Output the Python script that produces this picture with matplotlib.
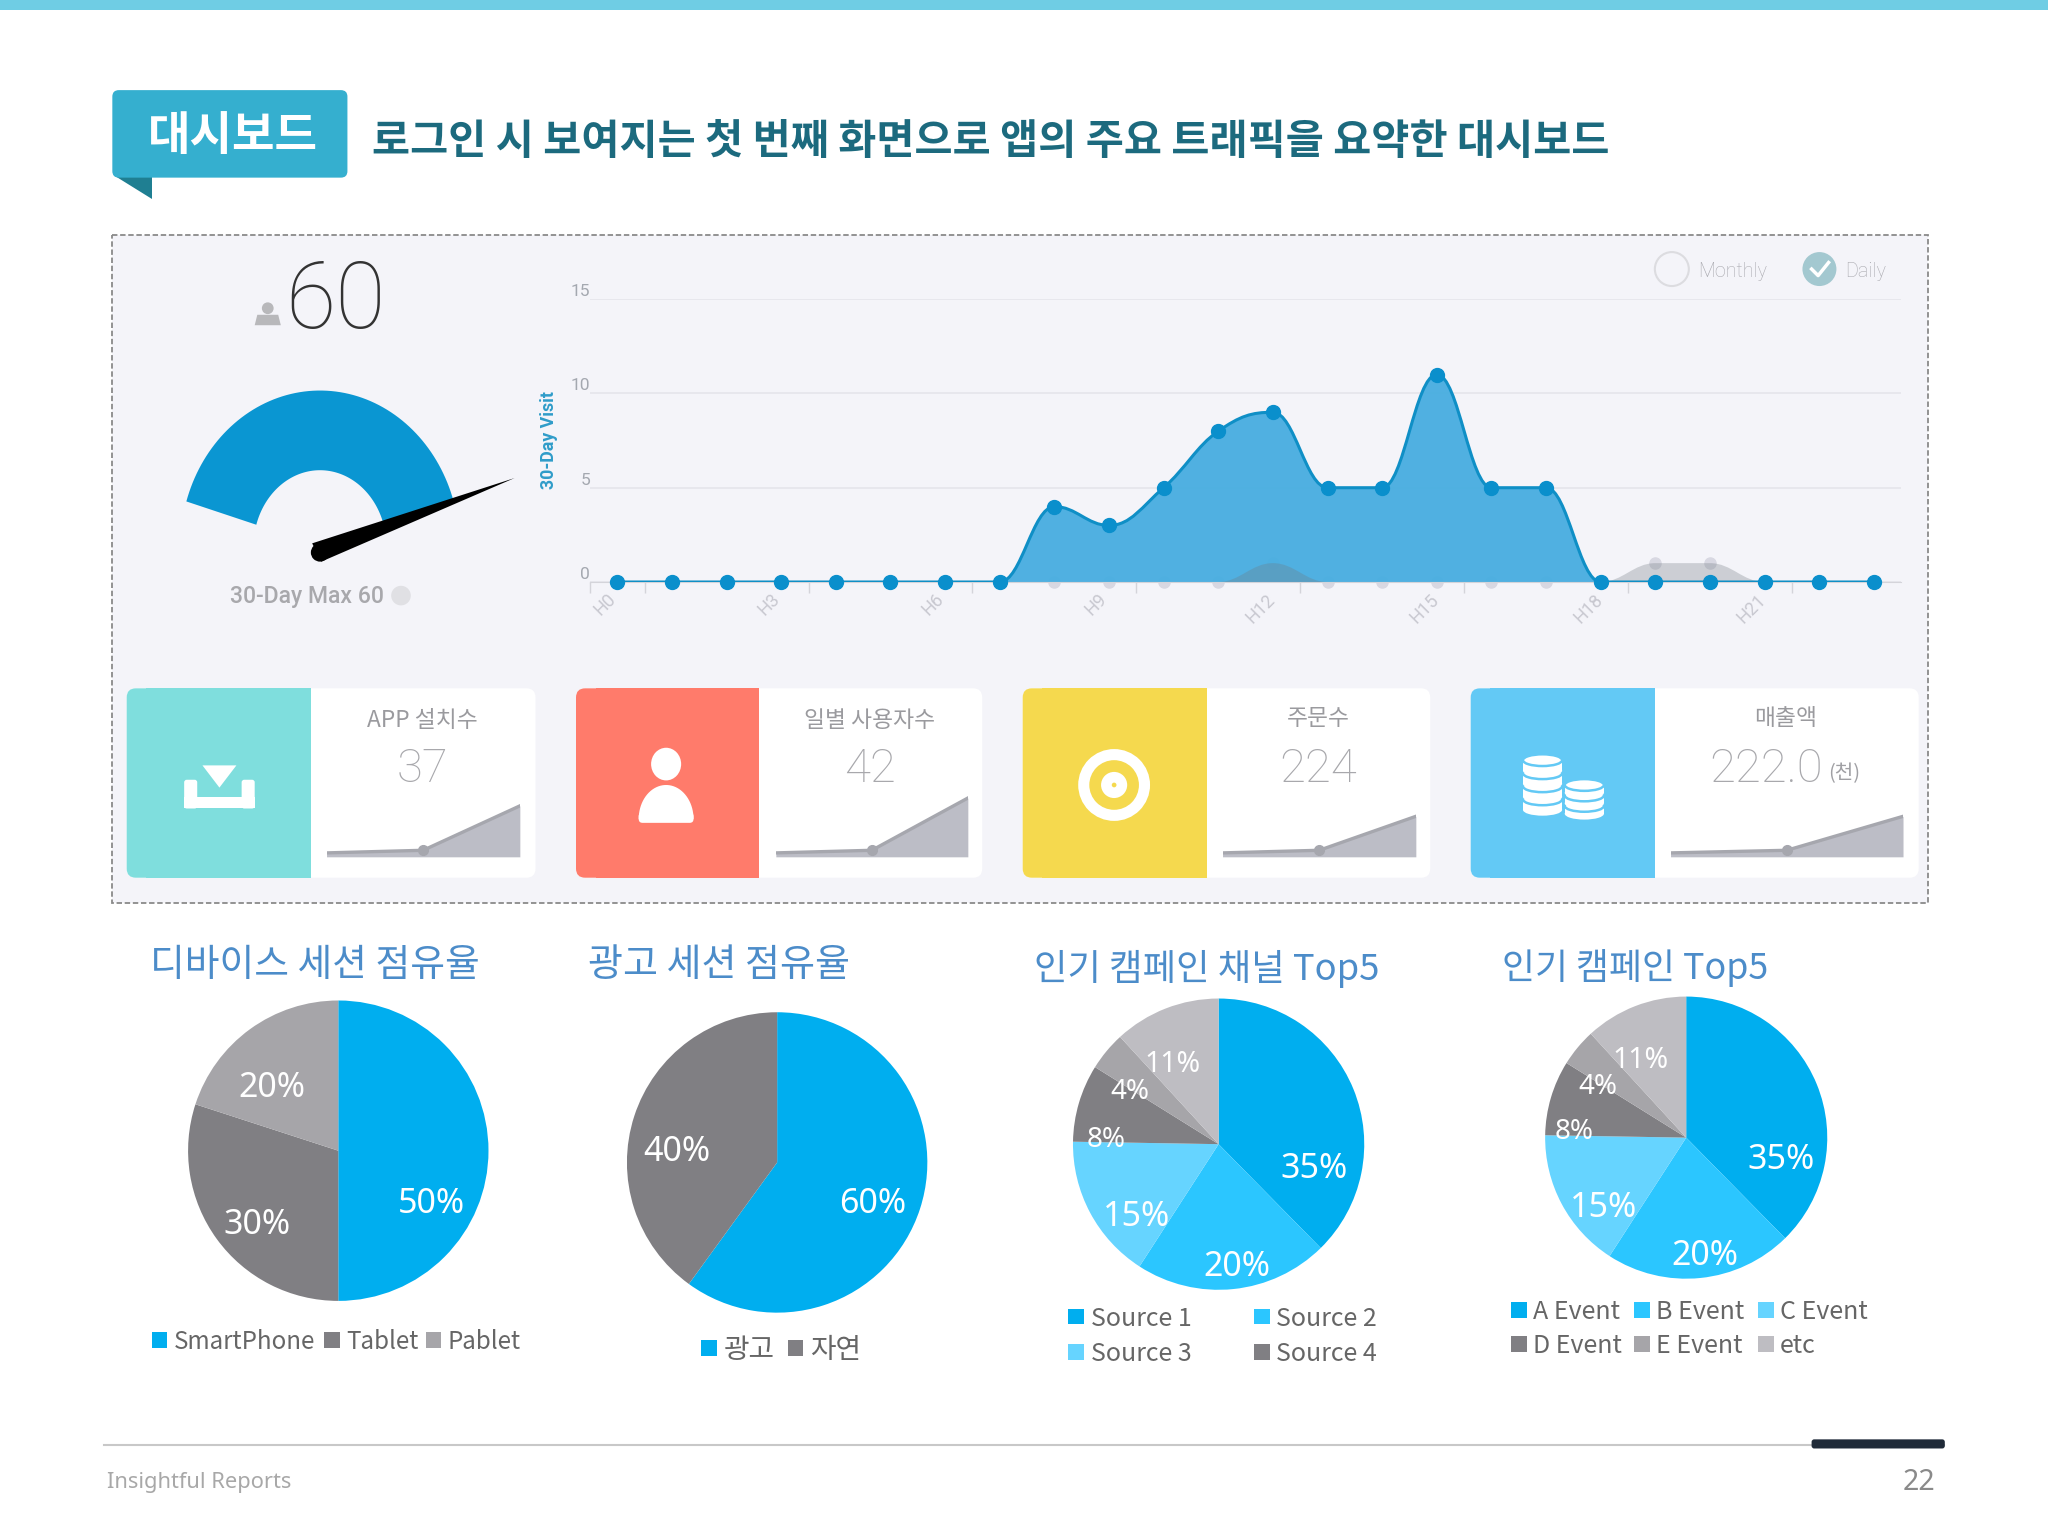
import numpy as np
import matplotlib
matplotlib.use("Agg")
import matplotlib.pyplot as plt
from matplotlib.patches import Rectangle, FancyBboxPatch, Ellipse, Circle, Polygon, PathPatch
from matplotlib.path import Path
from matplotlib.transforms import ScaledTranslation

# Chart values
hours = list(range(24))
hour_ticks = [0, 3, 6, 9, 12, 15, 18, 21]
hour_labels = ["H0", "H3", "H6", "H9", "H12", "H15", "H18", "H21"]
visits = [0, 0, 0, 0, 0, 0, 0, 0, 4, 3, 5, 8, 9, 5, 5, 11, 5, 5, 0, 0, 0, 0, 0, 0]
visits_prev = [0, 0, 0, 0, 0, 0, 0, 0, 0, 0, 0, 0, 1, 0, 0, 0, 0, 0, 0, 1, 1, 0, 0, 0]

card_titles = ["APP 설치수", "일별 사용자수", "주문수", "매출액"]
card_numbers = ["37", "42", "224", "222.0"]
card_sparks = [[3, 5, 39], [3, 5, 45], [3, 5, 31], [3, 5, 31]]

device_share = [50, 30, 20]
ad_share = [60, 40]
channel_share = [35, 20, 15, 8, 4, 11]
campaign_share = [35, 20, 15, 8, 4, 11]

BLUE = "#00aeef"
BLUE2 = "#2bc6ff"
BLUE3 = "#66d4ff"
GREY1 = "#807f83"
GREY2 = "#a6a5a9"
GREY3 = "#bebdc2"

KR = ["Noto Sans CJK KR", "DejaVu Sans"]
LATIN = ["Roboto", "DejaVu Sans"]
NOTO = ["Noto Sans", "DejaVu Sans"]

W, H = 1568, 1176  # overlay units, same shape as the 2048x1536 page

fig = plt.figure(figsize=(20.48, 15.36), dpi=100, facecolor="white")
bg = fig.add_axes([0, 0, 1, 1])
bg.set_xlim(0, W)
bg.set_ylim(H, 0)
bg.axis("off")


def box_axes(x0, y0, x1, y1, zorder=5):
    # x0,y0 top left and x1,y1 bottom right in overlay units
    ax = fig.add_axes([x0 / W, 1 - y1 / H, (x1 - x0) / W, (y1 - y0) / H], zorder=zorder)
    ax.patch.set_alpha(0)
    return ax


def label(x, y, s, size, color, family=KR, ha="center", weight="normal", ax=None, **kw):
    (ax or bg).text(x, y, s, fontsize=size, color=color, family=family, ha=ha, va="center",
                    weight=weight, zorder=20, **kw)


def rounded(x0, y0, x1, y1, color, r=5, z=2):
    bg.add_patch(FancyBboxPatch((x0, y0), x1 - x0, y1 - y0, boxstyle=f"round,pad=0,rounding_size={r}",
                                fc=color, ec="none", zorder=z))


def spline_path(xs, ys, base=None):
    # same smoothing as a highcharts spline
    lefts, rights = [], []
    n = len(xs)
    for i in range(n):
        x, y = xs[i], ys[i]
        if 0 < i < n - 1:
            lx = (1.5 * x + xs[i - 1]) / 2.5
            rx = (1.5 * x + xs[i + 1]) / 2.5
            ly = (1.5 * y + ys[i - 1]) / 2.5
            ry = (1.5 * y + ys[i + 1]) / 2.5
            fix = (ry - ly) * (rx - x) / (rx - lx) + y - ry
            ly += fix
            ry += fix
            if ly > max(ys[i - 1], y):
                ly = max(ys[i - 1], y)
                ry = 2 * y - ly
            elif ly < min(ys[i - 1], y):
                ly = min(ys[i - 1], y)
                ry = 2 * y - ly
            if ry > max(ys[i + 1], y):
                ry = max(ys[i + 1], y)
                ly = 2 * y - ry
            elif ry < min(ys[i + 1], y):
                ry = min(ys[i + 1], y)
                ly = 2 * y - ry
            lefts.append((lx, ly))
            rights.append((rx, ry))
        else:
            lefts.append((x, y))
            rights.append((x, y))
    verts = [(xs[0], ys[0])]
    codes = [Path.MOVETO]
    for i in range(1, n):
        verts += [rights[i - 1], lefts[i], (xs[i], ys[i])]
        codes += [Path.CURVE4] * 3
    if base is not None:
        verts += [(xs[-1], base), (xs[0], base), (xs[0], base)]
        codes += [Path.LINETO, Path.LINETO, Path.CLOSEPOLY]
    return Path(verts, codes)


# Page header
bg.add_patch(Rectangle((0, 0), W, 8, fc="#6fcde4", ec="none"))
rounded(86, 69, 266, 136, "#35afcf", r=5, z=3)
bg.add_patch(Polygon([(88, 135), (116, 135), (116, 152)], fc="#1f7f92", ec="none", zorder=2))
label(178, 104, "대시보드", 33.3, "white", weight="bold")
label(285, 109, "로그인 시 보여지는 첫 번째 화면으로 앱의 주요 트래픽을 요약한 대시보드", 29.8, "#1c6a7e",
      ha="left", weight="bold")

# Dashed panel
bg.add_patch(Rectangle((85.5, 180), 1391, 511, fc="#f4f4f9", ec="#8a8a8a", lw=1.3,
                       ls=(0, (3, 1.5)), zorder=1))

# Gauge, the dial is a bit taller than wide in the screenshot
label(257, 232, "60", 66, "#333333", family=LATIN, weight="light")
bg.add_patch(Circle((205, 236), 4.5, fc="#b8b8bb", ec="none", zorder=3))
bg.add_patch(Polygon([(195, 249), (197, 241), (213, 241), (215, 249)], fc="#b8b8bb", ec="none", zorder=3))
dial = np.radians(np.linspace(17, 163, 80))
outer = np.column_stack([245 + 107 * np.cos(dial), 419 - 120 * np.sin(dial)])
inner = np.column_stack([245 + 51 * np.cos(dial), 419 - 59 * np.sin(dial)])[::-1]
bg.add_patch(Polygon(np.vstack([outer, inner]), fc="#0a96d2", ec="none", zorder=3))
bg.add_patch(Polygon([(239, 416), (394, 366), (246, 430)], fc="black", ec="none", zorder=4))
bg.add_patch(Circle((245, 423), 7, fc="black", ec="none", zorder=4))
label(235, 457, "30-Day Max 60", 16.6, "#a8a8ac", family=LATIN, weight="medium")
bg.add_patch(Circle((307, 456), 7.5, fc="#e0e0e4", ec="none", zorder=3))

# Monthly / Daily switch
bg.add_patch(Circle((1280, 206), 13, fc="#f4f4f9", ec="#dcdce0", lw=1.5, zorder=3))
label(1300, 208, "Monthly", 14.2, "#a8a8ae", family=LATIN, ha="left", weight="light")
bg.add_patch(Circle((1393, 206), 13, fc="#a3c8d0", ec="none", zorder=3))
bg.plot([1387, 1392, 1400], [206, 211, 201], color="white", lw=2.5, zorder=4)
label(1413, 208, "Daily", 14.2, "#a8a8ae", family=LATIN, ha="left", weight="light")

# Hourly visits
ax = box_axes(451.7, 229, 1455.6, 445.6)
ax.set_xlim(-0.5, 23.5)
ax.set_ylim(0, 15)
for side in ["top", "right", "left"]:
    ax.spines[side].set_visible(False)
ax.spines["bottom"].set_color("#d4d4da")
ax.set_yticks([0, 5, 10, 15])
ax.set_yticklabels(["0", "5", "10", "15"], va="bottom", family=LATIN, color="#a4a8b0", fontsize=12.5)
ax.tick_params(axis="y", length=0, pad=0)
ax.grid(axis="y", color="#e6e6ec", lw=1.3, zorder=0)
ax.set_axisbelow(True)
ax.set_xticks(hour_ticks)
ax.set_xticklabels(hour_labels, rotation=45, family=LATIN, color="#c8c8d0", fontsize=13)
ax.tick_params(axis="x", which="major", length=0, pad=6)
shift = ScaledTranslation(-9 / 72, 0, fig.dpi_scale_trans)
for tl in ax.get_xticklabels():
    tl.set_transform(tl.get_transform() + shift)
ax.set_xticks([-0.5, 0.5, 3.5, 6.5, 9.5, 12.5, 15.5, 18.5, 21.5], minor=True)
ax.tick_params(axis="x", which="minor", length=8, color="#d4d4da", width=1)
ax.set_ylabel("30-Day Visit", color="#2f9cc9", fontsize=12.8, weight="bold", family=LATIN, labelpad=9)

ax.plot(hours, visits_prev, ls="none", marker="o", ms=8, color="#d8d8e2", clip_on=False, zorder=1)
ax.add_patch(PathPatch(spline_path(hours, visits, base=0), fc="#47ade0", ec="none", alpha=0.95, zorder=2))
ax.add_patch(PathPatch(spline_path(hours, visits_prev, base=0), fc="#707880", ec="none", alpha=0.3, zorder=3))
ax.add_patch(PathPatch(spline_path(hours, visits), fc="none", ec="#0f8fc6", lw=2.2, zorder=4))
ax.plot(hours, visits, ls="none", marker="o", ms=10, color="#0a8fcc", clip_on=False, zorder=5)

# KPI cards
card_x = [(97, 238, 410), (441, 581, 752), (783, 924, 1095), (1126, 1267, 1469)]
card_colors = ["#7fdedd", "#ff7b6b", "#f5d94e", "#63c9f5"]
spark_x = [(250, 398), (594, 741), (936, 1084), (1279, 1457)]
title_y = [552, 552, 550, 550]
for i in range(4):
    x0, xm, x1 = card_x[i]
    rounded(x0, 527, x1, 672, "white", r=7, z=2)
    rounded(x0, 527, x0 + 30, 672, card_colors[i], r=7, z=3)
    bg.add_patch(Rectangle((x0 + 15, 527), xm - x0 - 15, 145, fc=card_colors[i], ec="none", zorder=3))
    cx = (xm + x1) / 2 - 0.5
    if i == 3:
        label(1367, title_y[i], card_titles[i], 16.4, "#9a9a9e")
        label(1352, 589, card_numbers[i], 34, "#a8a8ac", family=LATIN, weight="light")
        label(1412, 592, "(천)", 14.5, "#a0a0a4")
    else:
        label(cx, title_y[i], card_titles[i], 16.4, "#9a9a9e")
        label(cx, 589, card_numbers[i], 34, "#a8a8ac", family=LATIN, weight="light")
    sa = box_axes(spark_x[i][0], 606, spark_x[i][1], 656, zorder=6)
    sa.set_xlim(0, 2)
    sa.set_ylim(0, 50)
    sa.axis("off")
    sa.fill_between([0, 1, 2], card_sparks[i], 0, color="#bcbdc6", lw=0)
    sa.plot([0, 1, 2], card_sparks[i], color="#a6a7ae", lw=2.4)
    sa.plot([1], [card_sparks[i][1]], marker="o", ms=7, color="#a6a7ae")

# Card icons
bg.add_patch(Polygon([(155, 586), (181, 586), (168, 603)], fc="white", ec="none", zorder=5))
rounded(141, 597, 151, 619, "white", r=2, z=5)
rounded(185, 597, 195, 619, "white", r=2, z=5)
bg.add_patch(Rectangle((141, 610), 54, 9, fc="white", ec="none", zorder=5))

bg.add_patch(Ellipse((510, 585), 23, 25, fc="white", ec="none", zorder=5))
dome = np.linspace(np.pi, 2 * np.pi, 40)
bg.add_patch(Polygon(np.column_stack([510 + 21 * np.cos(dome), 627 + 26 * np.sin(dome)]),
                     fc="white", ec="none", zorder=5))
rounded(489, 622, 531, 630, "white", r=3, z=5)

for r, c in [(27.5, "white"), (19, card_colors[2]), (10, "white"), (1.8, card_colors[2])]:
    bg.add_patch(Circle((853, 601), r, fc=c, ec="none", zorder=5))

for cx, top_y, n, step in [(1181, 582, 4, 10), (1213, 601, 3, 8)]:
    for k in range(n - 1, -1, -1):
        y = top_y + k * step
        bg.add_patch(Rectangle((cx - 15, y), 30, step - 2, fc="white", ec="none", zorder=5))
        bg.add_patch(Ellipse((cx, y + step - 2), 30, 9, fc="white", ec="none", zorder=5))
        bg.add_patch(Ellipse((cx, y), 30, 9, fc="white", ec=card_colors[3], lw=1.8, zorder=5))

# Section titles
for x, y, s, size in [(115, 739, "디바이스 세션 점유율", 27.2), (450, 739, "광고 세션 점유율", 27.4),
                      (792, 742, "인기 캠페인 채널 Top5", 26.2), (1150, 741, "인기 캠페인 Top5", 25.8)]:
    label(x, y, s, size, "#4c8cc9", ha="left")


def draw_pie(cx, cy, r, values, colors):
    pa = box_axes(cx - r, cy - r, cx + r, cy + r)
    pa.pie(values, colors=colors, startangle=90, counterclock=False, radius=1,
           wedgeprops={"linewidth": 0})
    pa.set_xlim(-1, 1)
    pa.set_ylim(-1, 1)


draw_pie(259, 881, 115, device_share, [BLUE, GREY1, GREY2])
draw_pie(595, 890, 115, ad_share, [BLUE, GREY1])
six = [BLUE, BLUE2, BLUE3, GREY1, GREY2, GREY3]
draw_pie(933, 876, 111.5, channel_share, six)
draw_pie(1291, 871, 108, campaign_share, six)

# Pie labels sit on top of everything
top = fig.add_axes([0, 0, 1, 1], zorder=10)
top.set_xlim(0, W)
top.set_ylim(H, 0)
top.axis("off")
pie_labels = [
    (330, 922, "50%", 24.5), (197, 938, "30%", 24.5), (208, 833, "20%", 24.5),
    (668, 922, "60%", 24.5), (518, 882, "40%", 24.5),
    (1006, 895, "35%", 24.5), (947, 970, "20%", 24.5), (870, 932, "15%", 24.5),
    (847, 873, "8%", 20), (865, 836, "4%", 20), (898, 815, "11%", 20.5),
    (1364, 888, "35%", 24.5), (1305, 962, "20%", 24.5), (1228, 925, "15%", 24.5),
    (1205, 867, "8%", 20), (1223, 832, "4%", 20), (1256, 812, "11%", 20.5),
]
for x, y, s, size in pie_labels:
    label(x, y, s, size, "white", family=NOTO, ax=top, weight="light")

# Legends
legend_items = [
    (116, 1026, BLUE, "SmartPhone", 17.4), (248, 1026, GREY1, "Tablet", 17.4), (326, 1026, GREY2, "Pablet", 17.4),
    (537, 1032, BLUE, "광고", 20), (603, 1032, GREY1, "자연", 20),
    (818, 1008, BLUE, "Source 1", 18), (960, 1008, BLUE2, "Source 2", 18),
    (818, 1035, BLUE3, "Source 3", 18), (960, 1035, GREY1, "Source 4", 18),
    (1157, 1003, BLUE, "A Event", 18), (1251, 1003, BLUE2, "B Event", 18), (1346, 1003, BLUE3, "C Event", 18),
    (1157, 1029, GREY1, "D Event", 18), (1251, 1029, GREY2, "E Event", 18), (1346, 1029, GREY3, "etc", 18),
]
for x, y, c, s, size in legend_items:
    bg.add_patch(Rectangle((x, y - 6), 12, 12, fc=c, ec="none", zorder=3))
    label(x + 17, y + 1.5, s, size, "#666666", ha="left")

# Footer
bg.plot([80, 1488], [1106, 1106], color="#c8c8c8", lw=1.5, zorder=2)
rounded(1387, 1102, 1489, 1109, "#1f2a38", r=2, z=3)
label(82, 1135, "Insightful Reports", 15.7, "#a8a8a8", family=NOTO, ha="left")
label(1482, 1135, "22", 20.5, "#8a8a8a", family=NOTO, ha="right")

fig.savefig("out.png", dpi=100)
